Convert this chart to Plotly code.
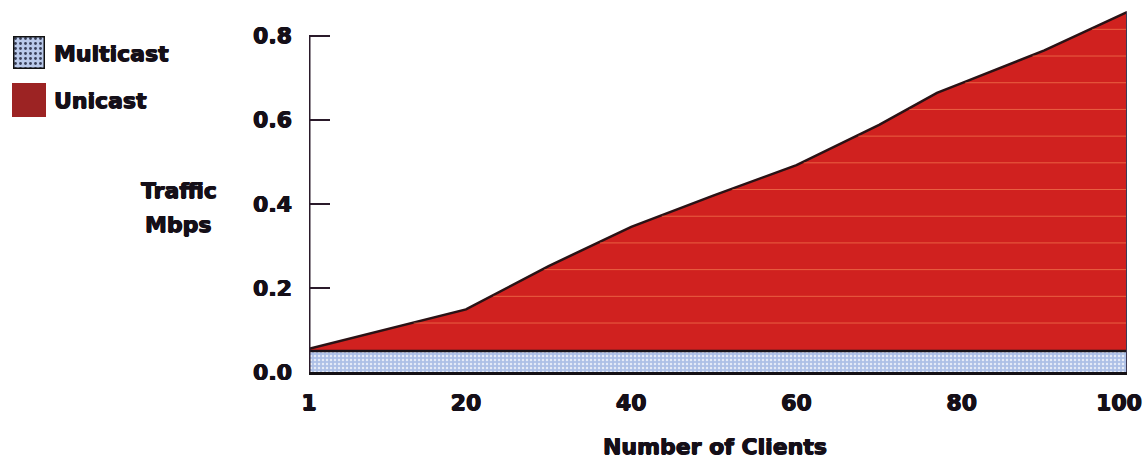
import numpy as np
import plotly.graph_objects as go

# Traffic (Mbps) versus number of clients
clients = [1, 10, 20, 30, 40, 50, 60, 70, 77, 80, 90, 100]
unicast = [0.055, 0.10, 0.149, 0.252, 0.345, 0.42, 0.492, 0.588, 0.664, 0.687, 0.765, 0.856]
multicast = [0.05, 0.05, 0.05, 0.05, 0.05, 0.05, 0.05, 0.05, 0.05, 0.05, 0.05, 0.05]

x_ticks = [1, 20, 40, 60, 80, 100]
y_ticks = [0.0, 0.2, 0.4, 0.6, 0.8]
y_labels = ["0.0", "0.2", "0.4", "0.6", "0.8"]

W, H = 1148, 459
FONT = "DejaVu Sans"
INK = "#150f18"
RED = "#d0211f"
BLUE_BG = "#adc0e6"
HEAVY = "0.6px 0 0 #150f18, -0.6px 0 0 #150f18, 0 0.5px 0 #150f18"


def fx(px):
    return px / W


def fy(py):
    return 1 - py / H


fig = go.Figure()

# Unicast area (total traffic)
fig.add_trace(go.Scatter(
    x=clients, y=unicast, mode="lines", fill="tozeroy",
    fillcolor=RED, line=dict(color="#2a1215", width=2.5),
    name="Unicast", showlegend=False, hoverinfo="x+y"))

# faint horizontal streaks inside the red area
levels = np.arange(0.1165, 0.82, 0.0635)
sx, sy = [], []
for lv in levels:
    x0 = float(np.interp(lv, unicast, clients))
    sx += [x0 + 0.3, clients[-1], None]
    sy += [lv, lv, None]
fig.add_trace(go.Scatter(
    x=sx, y=sy, mode="lines", line=dict(color="rgba(255,150,95,0.55)", width=1),
    showlegend=False, hoverinfo="skip"))

# Multicast band
fig.add_trace(go.Scatter(
    x=clients, y=multicast, mode="lines", fill="tozeroy",
    fillcolor=BLUE_BG,
    fillpattern=dict(shape=".", bgcolor=BLUE_BG, fgcolor="#e6ecf8",
                     size=4, solidity=0.3, fillmode="replace"),
    line=dict(color="#1a1418", width=2.5),
    name="Multicast", showlegend=False, hoverinfo="x+y"))

# right-hand edge of the area
fig.add_trace(go.Scatter(
    x=[clients[-1], clients[-1]], y=[0, unicast[-1]], mode="lines",
    line=dict(color="#3c3a55", width=2), showlegend=False, hoverinfo="skip"))

# legend swatches drawn in small helper axes
fig.add_trace(go.Scatter(
    x=[0, 1, 1, 0, 0], y=[0, 0, 1, 1, 0], mode="lines", fill="toself",
    fillcolor=BLUE_BG,
    fillpattern=dict(shape=".", bgcolor="#b9c9ea", fgcolor="#39405a",
                     size=5, solidity=0.25, fillmode="replace"),
    line=dict(color="#111", width=3), xaxis="x2", yaxis="y2",
    showlegend=False, hoverinfo="skip"))
fig.add_trace(go.Scatter(
    x=[0, 1, 1, 0, 0], y=[0, 0, 1, 1, 0], mode="lines", fill="toself",
    fillcolor="#9c2323", line=dict(color="#9c2323", width=1),
    xaxis="x3", yaxis="y3", showlegend=False, hoverinfo="skip"))

hidden = dict(visible=False, range=[0, 1], fixedrange=True)
tick_font = dict(family=FONT, size=22, color=INK, weight="bold", shadow=HEAVY)

# the last x label sits at the right edge, so it is placed inward as an annotation
axis_ticks = x_ticks[:-1]

fig.update_layout(
    width=W, height=H,
    margin=dict(l=0, r=0, t=0, b=0),
    paper_bgcolor="white", plot_bgcolor="white",
    font=dict(family=FONT, color=INK),
    xaxis=dict(
        domain=[fx(309), fx(1127)], range=[1, 100],
        showgrid=False, zeroline=False,
        showline=True, linecolor="#141014", linewidth=3,
        tickmode="array", tickvals=axis_ticks, ticks="",
        ticklabelstandoff=9, ticklabeloverflow="allow",
        tickfont=tick_font, automargin=False),
    yaxis=dict(
        domain=[fy(372), fy(2)], range=[0, 0.88],
        showgrid=False, zeroline=False, showline=False,
        tickmode="array", tickvals=y_ticks, ticktext=y_labels,
        ticks="inside", ticklen=21, tickwidth=2, tickcolor="#2a1a2a",
        ticklabelstandoff=16, ticklabeloverflow="allow",
        tickfont=tick_font, automargin=False),
    xaxis2=dict(domain=[fx(13), fx(45)], anchor="y2", **hidden),
    yaxis2=dict(domain=[fy(69), fy(36)], anchor="x2", **hidden),
    xaxis3=dict(domain=[fx(12), fx(46)], anchor="y3", **hidden),
    yaxis3=dict(domain=[fy(117), fy(83)], anchor="x3", **hidden),
    showlegend=False,
)

fig.add_annotation(text=str(x_ticks[-1]), xref="x", yref="paper",
                   x=x_ticks[-1], y=fy(402), xanchor="center", yanchor="middle",
                   xshift=-8, showarrow=False, font=tick_font)

# y axis line running from 0 to the top tick
fig.add_shape(type="line", xref="x", yref="y", x0=1, x1=1, y0=0, y1=0.8,
              line=dict(color="#2a1a2a", width=3), layer="above")

bold = dict(family=FONT, size=22, color=INK, weight="bold", shadow=HEAVY)
notes = [
    ("Multicast", 52, 53, "left"),
    ("Unicast", 52, 100, "left"),
    ("Traffic", 179, 191, "center"),
    ("Mbps", 178, 224, "center"),
    ("Number of Clients", 715, 446, "center"),
]
for text, px, py, anchor in notes:
    fig.add_annotation(text=text, xref="paper", yref="paper",
                       x=fx(px), y=fy(py), xanchor=anchor, yanchor="middle",
                       showarrow=False, font=bold)

fig.write_html("out.html")
